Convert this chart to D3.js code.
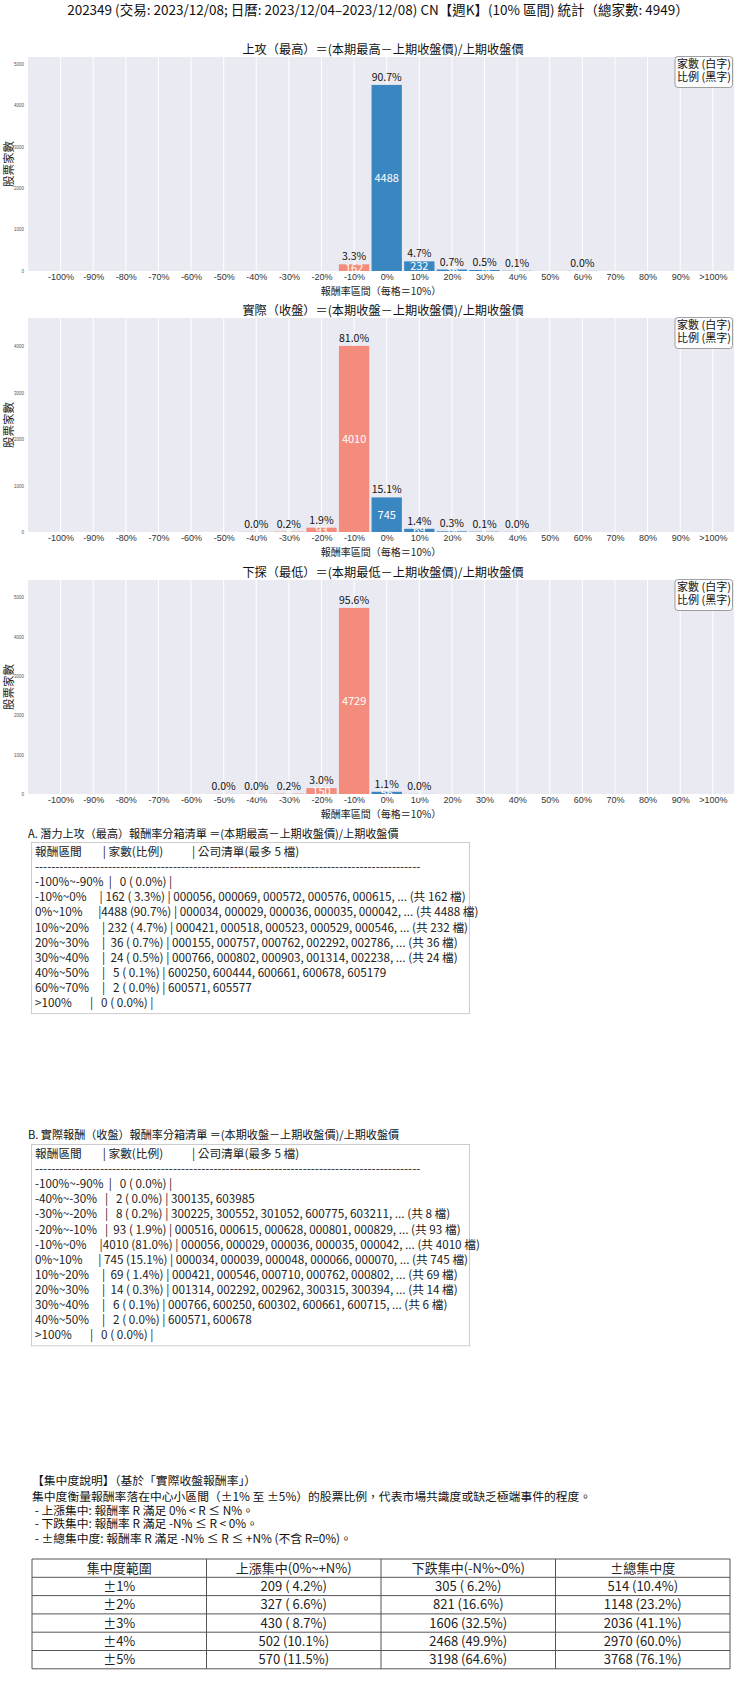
<!DOCTYPE html>
<html><head><meta charset="utf-8">
<script src="https://cdn.jsdelivr.net/npm/d3@7/dist/d3.min.js"></script>
<style>
body{margin:0;background:#fff;}
svg{display:block;font-family:"Noto Sans CJK TC","Noto Sans CJK SC","Noto Sans",sans-serif;}
.pre{white-space:pre;}
</style></head><body>
<svg id="c" width="740" height="1690"></svg>
<script>
const TOTAL = 4949;
const mainTitle = "202349 (交易: 2023/12/08; 日曆: 2023/12/04–2023/12/08) CN【週K】(10% 區間) 統計（總家數: 4949）";
const tickLabels = ["-100%","-90%","-80%","-70%","-60%","-50%","-40%","-30%","-20%","-10%","0%","10%","20%","30%","40%","50%","60%","70%","80%","90%",">100%"];
const binNames = ["-100%~-90%","-90%~-80%","-80%~-70%","-70%~-60%","-60%~-50%","-50%~-40%","-40%~-30%","-30%~-20%","-20%~-10%","-10%~0%","0%~10%","10%~20%","20%~30%","30%~40%","40%~50%","50%~60%","60%~70%","70%~80%","80%~90%","90%~100%",">100%"];
const chartTitles = ["上攻（最高）＝(本期最高－上期收盤價)/上期收盤價","實際（收盤）＝(本期收盤－上期收盤價)/上期收盤價","下探（最低）＝(本期最低－上期收盤價)/上期收盤價"];
const highCounts  = [0,0,0,0,0,0,0,0,0,162,4488,232,36,24,5,0,2,0,0,0,0];
const closeCounts = [0,0,0,0,0,0,2,8,93,4010,745,69,14,6,2,0,0,0,0,0,0];
const lowCounts   = [0,0,0,0,0,1,2,9,150,4729,56,2,0,0,0,0,0,0,0,0,0];
const yTickStep = 1000;
const xLabel = "報酬率區間（每格＝10%）";
const yLabel = "股票家數";
const legendLines = ["家數 (白字)","比例 (黑字)"];

const highCodes = [null,null,null,null,null,null,null,null,null,
 ["000056","000069","000572","000576","000615"],
 ["000034","000029","000036","000035","000042"],
 ["000421","000518","000523","000529","000546"],
 ["000155","000757","000762","002292","002786"],
 ["000766","000802","000903","001314","002238"],
 ["600250","600444","600661","600678","605179"],
 null,
 ["600571","605577"],
 null,null,null,null];
const closeCodes = [null,null,null,null,null,null,
 ["300135","603985"],
 ["300225","300552","301052","600775","603211"],
 ["000516","000615","000628","000801","000829"],
 ["000056","000029","000036","000035","000042"],
 ["000034","000039","000048","000066","000070"],
 ["000421","000546","000710","000762","000802"],
 ["001314","002292","002962","300315","300394"],
 ["000766","600250","600302","600661","600715"],
 ["600571","600678"],
 null,null,null,null,null,null];
const boxTitles = ["A. 潛力上攻（最高）報酬率分箱清單 ＝(本期最高－上期收盤價)/上期收盤價","B. 實際報酬（收盤）報酬率分箱清單 ＝(本期收盤－上期收盤價)/上期收盤價"];

const concNotes = ["【集中度說明】（基於「實際收盤報酬率」）",
 "集中度衡量報酬率落在中心小區間（±1% 至 ±5%）的股票比例，代表市場共識度或缺乏極端事件的程度。",
 " - 上漲集中: 報酬率 R 滿足 0% < R ≤ N%。",
 " - 下跌集中: 報酬率 R 滿足 -N% ≤ R < 0%。",
 " - ±總集中度: 報酬率 R 滿足 -N% ≤ R ≤ +N% (不含 R=0%)。"];
const concHeader = ["集中度範圍","上漲集中(0%~+N%)","下跌集中(-N%~0%)","±總集中度"];
const concRanges = ["±1%","±2%","±3%","±4%","±5%"];
const concUp    = [209,327,430,502,570];
const concDown  = [305,821,1606,2468,3198];
const concTotal = [514,1148,2036,2970,3768];

const svg = d3.select("#c");
const BLUE = "#3a86c0", SALMON = "#f48c7d", BG = "#eaeaf2";
const plotL = 28, plotR = 734, plotH = 214;
const tops = [57, 318, 580];
const x = d3.scaleLinear().domain([-1.0, 20.65]).range([plotL, plotR]);
const bw = (x(1) - x(0)) * 0.93;

svg.append("text").attr("x", 378).attr("y", 15).attr("text-anchor","middle")
  .attr("font-size", 13.5).attr("fill","#111").text(mainTitle);

[highCounts, closeCounts, lowCounts].forEach((counts, ci) => {
  const top = tops[ci], bottom = top + plotH;
  const ymax = d3.max(counts) * 1.15;
  const y = d3.scaleLinear().domain([0, ymax]).range([bottom, top]);
  const g = svg.append("g");
  g.append("rect").attr("x", plotL).attr("y", top).attr("width", plotR - plotL).attr("height", plotH).attr("fill", BG);
  g.selectAll(".vg").data(d3.range(tickLabels.length)).join("line")
    .attr("x1", d => x(d)).attr("x2", d => x(d)).attr("y1", top).attr("y2", bottom)
    .attr("stroke", "#fff").attr("stroke-width", 1);
  const xa = g.append("g").attr("transform", `translate(0,${bottom})`)
    .call(d3.axisBottom(x).tickValues(d3.range(tickLabels.length)).tickFormat(i => tickLabels[i]).tickSize(0).tickPadding(3));
  xa.select(".domain").remove();
  xa.selectAll("text").attr("font-size", 9).attr("fill", "#333").attr("font-family", null);
  const ya = g.append("g").attr("transform", `translate(${plotL},0)`)
    .call(d3.axisLeft(y).tickValues(d3.range(0, ymax, yTickStep)).tickFormat(d3.format("d")).tickSize(0).tickPadding(4));
  ya.select(".domain").remove();
  ya.selectAll("text").attr("font-size", 4.5).attr("fill", "#555").attr("font-family", null);
  const data = counts.map((c, i) => ({i, c})).filter(d => d.c > 0);
  g.selectAll(".bar").data(data).join("rect")
    .attr("x", d => x(d.i) - bw / 2).attr("width", bw)
    .attr("y", d => y(d.c)).attr("height", d => bottom - y(d.c))
    .attr("fill", d => d.i < 10 ? SALMON : BLUE);
  g.selectAll(".cnt").data(data).join("text")
    .attr("x", d => x(d.i)).attr("y", d => (y(d.c) + bottom) / 2 + 4)
    .attr("text-anchor", "middle").attr("font-size", 11).attr("fill", "#fff")
    .text(d => d.c);
  g.selectAll(".pct").data(data).join("text")
    .attr("x", d => x(d.i)).attr("y", d => y(d.c) - 4)
    .attr("text-anchor", "middle").attr("font-size", 10.5).attr("fill", "#111")
    .text(d => (d.c / TOTAL * 100).toFixed(1) + "%");
  g.append("text").attr("x", 383).attr("y", top - 3).attr("text-anchor", "middle")
    .attr("font-size", 12.2).attr("fill", "#111").text(chartTitles[ci]);
  g.append("text").attr("x", 381).attr("y", bottom + 24).attr("text-anchor", "middle")
    .attr("font-size", 10).attr("fill", "#222").text(xLabel);
  g.append("text").attr("transform", `translate(13,${(top + bottom) / 2}) rotate(-90)`)
    .attr("text-anchor", "middle").attr("font-size", 11.5).attr("fill", "#222").text(yLabel);
  g.append("rect").attr("x", plotR - 59).attr("y", top - 0.5).attr("width", 57.5).attr("height", 31).attr("rx", 3)
    .attr("fill", "#fff").attr("fill-opacity", 0.85).attr("stroke", "#888").attr("stroke-width", 0.8);
  legendLines.forEach((t, k) => {
    g.append("text").attr("x", plotR - 30).attr("y", top + 11 + k * 13).attr("text-anchor", "middle")
      .attr("font-size", 11).attr("fill", "#111").text(t);
  });
});

function fmtLines(counts, codes) {
  const lines = [];
  lines.push("報酬區間".padEnd(12) + "| " + "家數(比例)".padEnd(17) + "| 公司清單(最多 5 檔)");
  lines.push("-".repeat(95));
  counts.forEach((c, i) => {
    if (c > 0 || i === 0 || i === counts.length - 1) {
      let s = binNames[i].padEnd(12) + "|" + String(c).padStart(4) + " (" + (c / TOTAL * 100).toFixed(1).padStart(4) + "%) | ";
      if (codes[i]) s += codes[i].join(", ") + (c > 5 ? ", ... (共 " + c + " 檔)" : "");
      lines.push(s);
    }
  });
  return lines;
}
const boxes = [
  {title: boxTitles[0], lines: fmtLines(highCounts, highCodes), ty: 838, top: 842},
  {title: boxTitles[1], lines: fmtLines(closeCounts, closeCodes), ty: 1139, top: 1144}
];
const LH = 15.1;
boxes.forEach(b => {
  svg.append("text").attr("x", 28).attr("y", b.ty).attr("font-size", 11.1).attr("fill", "#111").text(b.title);
  const h = 5 + b.lines.length * LH;
  svg.append("rect").attr("x", 31.5).attr("y", b.top + 0.5).attr("width", 438).attr("height", h)
    .attr("fill", "#fff").attr("stroke", "#ccc");
  b.lines.forEach((l, k) => {
    svg.append("text").attr("class", "pre").attr("xml:space", "preserve")
      .attr("x", 35).attr("y", b.top + 14 + k * LH).attr("font-size", 11.7).attr("fill", "#222").text(l);
  });
});

const noteY = [1485, 1501, 1515, 1528, 1543];
concNotes.forEach((t, k) => {
  svg.append("text").attr("class", "pre").attr("xml:space", "preserve")
    .attr("x", 32).attr("y", noteY[k]).attr("font-size", 11.8).attr("fill", "#111").text(t);
});
const tL = 32, tR = 730, tTop = 1559, rowH = 18.3;
const colX = d3.scaleLinear().domain([0, 4]).range([tL, tR]);
const fmtC = v => v + " (" + (v / TOTAL * 100).toFixed(1).padStart(4) + "%)";
const rows = [concHeader].concat(concRanges.map((r, k) => [r, fmtC(concUp[k]), fmtC(concDown[k]), fmtC(concTotal[k])]));
const tb = svg.append("g");
rows.forEach((r, k) => {
  r.forEach((cell, j) => {
    tb.append("text").attr("class", "pre").attr("xml:space", "preserve")
      .attr("x", (colX(j) + colX(j + 1)) / 2).attr("y", tTop + k * rowH + rowH / 2 + 4.5)
      .attr("text-anchor", "middle").attr("font-size", 13).attr("fill", "#222").text(cell);
  });
});
d3.range(rows.length + 1).forEach(k => {
  tb.append("line").attr("x1", tL).attr("x2", tR).attr("y1", tTop + k * rowH).attr("y2", tTop + k * rowH)
    .attr("stroke", "#555").attr("stroke-width", 1);
});
d3.range(5).forEach(j => {
  tb.append("line").attr("x1", colX(j)).attr("x2", colX(j)).attr("y1", tTop).attr("y2", tTop + rows.length * rowH)
    .attr("stroke", "#555").attr("stroke-width", 1);
});
</script>
</body></html>
